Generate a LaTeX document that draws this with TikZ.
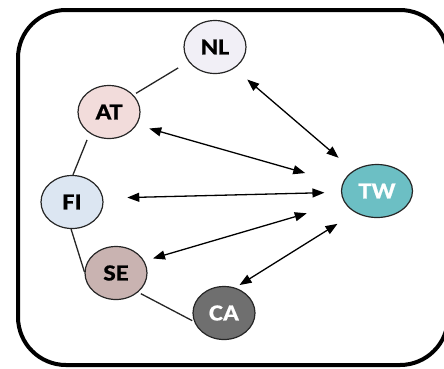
\documentclass[tikz,border=0pt]{standalone}
\usepackage{fontspec}
\setmainfont{Carlito}
\newfontfamily\nodefont[FakeStretch=1.15,FakeBold=0.6]{Carlito}
\usetikzlibrary{arrows.meta,shapes.geometric}
\definecolor{cNL}{HTML}{F1EFF6}
\definecolor{cAT}{HTML}{F2DCDB}
\definecolor{cFI}{HTML}{DCE6F2}
\definecolor{cSE}{HTML}{C9B3B1}
\definecolor{cCA}{HTML}{6F6F6F}
\definecolor{cTW}{HTML}{6CBFC4}
\tikzset{
  country/.style={ellipse, draw=black!85, line width=1.2pt, minimum width=62pt, minimum height=53pt, inner sep=0pt,
    font=\nodefont\fontsize{23}{25}\selectfont\bfseries, text=black},
  link/.style={draw=black!85, line width=1.3pt},
  bi/.style={draw=black, line width=1.3pt, {Triangle[length=12pt,width=9pt]}-{Triangle[length=12pt,width=9pt]}},
}
\begin{document}
\begin{tikzpicture}[x=1pt,y=-1pt]
\useasboundingbox (0,0) rectangle (444,368);
\draw[line width=4pt, rounded corners=48pt] (18,10) rectangle (448,365);
\node[country, fill=cNL] (NL) at (215,47) {NL};
\node[country, fill=cAT] (AT) at (109,112) {AT};
\node[country, fill=cFI] (FI) at (72,202) {FI};
\node[country, fill=cSE] (SE) at (116,273) {SE};
\node[country, fill=cCA, text=white] (CA) at (224,313) {CA};
\node[country, fill=cTW, text=white, minimum width=71pt] (TW) at (377,191) {TW};
% plain links
\draw[link, shorten <=12pt, shorten >=3pt] (NL.209) -- (AT.35);
\draw[link, shorten <=7pt] (AT.228) -- (FI.88);
\draw[link] (FI.268) -- (SE.178);
\draw[link, shorten <=3pt, shorten >=2pt] (SE.319) -- (CA.196);
% double arrows
\draw[bi, shorten <=17pt, shorten >=19.5pt] (NL.312) -- (TW.139);
\draw[bi, shorten <=13pt, shorten >=38.5pt] (AT.335) -- (TW.168);
\draw[bi, shorten <=24pt, shorten >=16.5pt] (FI.7) -- (TW.182);
\draw[bi, shorten <=9pt, shorten >=39pt] (SE.23) -- (TW.199);
\draw[bi, shorten <=5pt, shorten >=21pt] (CA.66) -- (TW.225);
\end{tikzpicture}
\end{document}
